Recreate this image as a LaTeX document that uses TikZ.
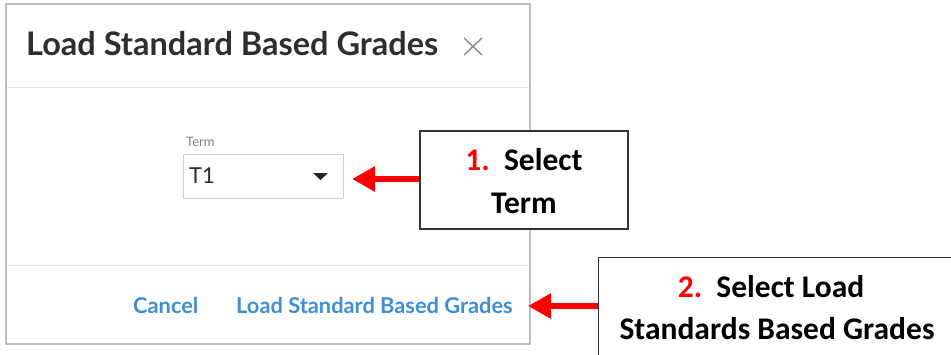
\documentclass[tikz,border=0pt]{standalone}
\usepackage{fontspec}
\setmainfont{Lato}
\newfontfamily\callfont{Carlito}
\usetikzlibrary{arrows.meta}
\definecolor{titlegray}{HTML}{2E2E2E}
\definecolor{linkblue}{HTML}{3F8FD6}
\definecolor{bordergray}{HTML}{BDBDBD}
\definecolor{sepgray}{HTML}{E3E3E3}
\tikzset{
  txt/.style={inner sep=0pt, anchor=base west},
  callout/.style={draw=black!80, line width=1.2pt, fill=white},
  calltext/.style={inner sep=0pt, anchor=base, font=\callfont\bfseries\fontsize{31.5}{32}\selectfont},
  redarrow/.style={draw=red, line width=6.5pt, -{Triangle[length=23pt,width=24pt]}},
}
\begin{document}
\begin{tikzpicture}[x=1pt,y=-1pt]
\useasboundingbox (0,0) rectangle (951,354);
\fill[white] (0,0) rectangle (951,354);
% dialog
\draw[bordergray, line width=1.2pt] (6,4) rectangle (530,344);
\draw[sepgray, line width=1pt] (7,87) -- (529,87);
\draw[sepgray, line width=1pt] (7,265) -- (529,265);
\node[txt, font=\bfseries\fontsize{32.5}{33}\selectfont, text=titlegray] (title) at (26,55) {Load Standard Based Grades};
\draw[gray!90, line width=1.4pt] (464,38) -- (482,55) (482,38) -- (464,55);
\coordinate (xmark) at (473,46);
% term field
\node[txt, font=\fontsize{13}{14}\selectfont, text=gray] (termlbl) at (186,146) {Term};
\draw[sepgray!80!gray, line width=0.8pt] (183,154) rectangle (343,198);
\coordinate (termwest) at (183,176);
\node[txt, font=\fontsize{22}{23}\selectfont, text=titlegray] (t1) at (189,183) {T1};
\fill[black!85] (313,173) -- (328,173) -- (320.5,180) -- cycle;
\coordinate (termeast) at (352,179);
% buttons
\node[txt, font=\bfseries\fontsize{21.8}{22}\selectfont, text=linkblue] (cancel) at (133,313) {Cancel};
\node[txt, font=\bfseries\fontsize{21.8}{22}\selectfont, text=linkblue] (loadbtn) at (236,313) {Load Standard Based Grades};
\coordinate (loadeast) at (528,306);
% callout 1
\node[callout, minimum width=208pt, minimum height=98pt, inner sep=0pt] (c1) at (524,180) {};
\node[calltext] (c1a) at (524,170) {\textcolor{red}{1.}\ \ Select};
\node[calltext] (c1b) at (524,213) {Term};
% callout 2
\node[callout, anchor=north west, minimum width=360pt, minimum height=110pt, inner sep=0pt] (c2) at (598,257) {};
\node[calltext] (c2a) at (771,297) {\textcolor{red}{2.}\ \ Select Load};
\node[calltext] (c2b) at (777,339) {Standards Based Grades};
% arrows
\draw[redarrow] (c1.west |- termeast) -- (termeast);
\draw[redarrow] (c2.west |- loadeast) -- (loadeast);
\end{tikzpicture}
\end{document}
